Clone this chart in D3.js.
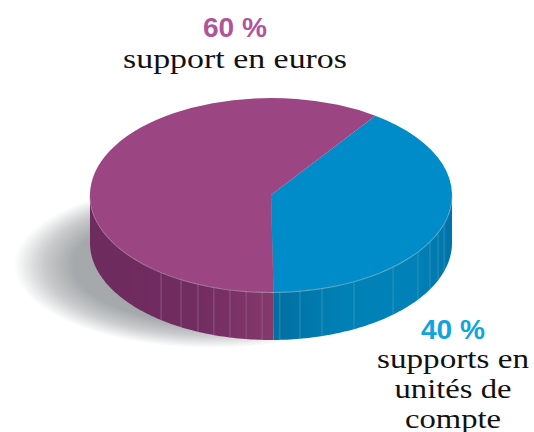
<!DOCTYPE html>
<html><head><meta charset="utf-8">
<script src="https://cdnjs.cloudflare.com/ajax/libs/d3/7.8.5/d3.min.js"></script>
<style>html,body{margin:0;padding:0;background:#fff}svg{display:block}</style></head>
<body><svg id="c" width="534" height="432"></svg>
<script>
const categories = ["supports en unités de compte", "support en euros"];
const values = [40, 60];
const percentLabels = ["40 %", "60 %"];
const facetAngles = [
  [107, 112.6, 118.6, 125.7, 137.6, 152.7, 163.6, 170.8, 177.2],
  [182.8, 187.9, 193.1, 198.4, 203.8, 209.8, 217.4]
];
const W = 534, H = 432, cx = 271, cy = 195, rx = 181, ry = 97, depth = 48, startDeg = 35.2;
const topColors = ["#008cc8", "#9c4583"];
const svg = d3.select("#c");
const defs = svg.append("defs");

const sg = defs.append("radialGradient").attr("id", "shadow");
[[0, "#a4a7a9"], [0.7, "#a6a9ab"], [0.85, "#c9cbcc"], [1, "#ffffff"]].forEach(s =>
  sg.append("stop").attr("offset", s[0]).attr("stop-color", s[1]));
const grad = (id, stops) => {
  const g = defs.append("linearGradient").attr("id", id).attr("gradientUnits", "userSpaceOnUse")
    .attr("x1", cx - rx).attr("x2", cx + rx).attr("y1", 0).attr("y2", 0);
  stops.forEach(s => g.append("stop").attr("offset", s[0]).attr("stop-color", s[1]));
};
grad("sidePurple", [[0, "#6e2b5e"], [0.3, "#712c60"], [0.5, "#85386b"]]);
grad("sideBlue", [[0.5, "#006f9f"], [0.7, "#0081b6"], [0.9, "#0082b8"], [1, "#0073a8"]]);

svg.append("ellipse").attr("cx", 212).attr("cy", 265).attr("rx", 198).attr("ry", 83).attr("fill", "url(#shadow)");

const toRad = d3.scaleLinear().domain([0, 360]).range([0, 2 * Math.PI]);
const px = a => cx + rx * Math.sin(toRad(a));
const py = a => cy - ry * Math.cos(toRad(a));

const pie = d3.pie().sort(null).value(d => d).startAngle(toRad(startDeg)).endAngle(toRad(startDeg + 360));
const arcs = pie(values);
const arc = d3.arc().innerRadius(0).outerRadius(rx);

// side walls
const deg = r => r * 180 / Math.PI;
const sides = [
  { from: 90, to: deg(arcs[0].endAngle), fill: "url(#sideBlue)", rim: "#8cbdd6" },
  { from: deg(arcs[0].endAngle), to: 270, fill: "url(#sidePurple)", rim: "#b7a0b5" }
];
const line = d3.line().x(d => d[0]).y(d => d[1]);
sides.forEach(s => {
  const as = d3.range(s.from, s.to, 1).concat([s.to]);
  const pts = as.map(a => [px(a), py(a)]).concat(as.slice().reverse().map(a => [px(a), py(a) + depth]));
  svg.append("path").attr("d", line(pts) + "Z").attr("fill", s.fill);
});
// facet lines
facetAngles.forEach((list, i) => {
  svg.append("g").selectAll("line").data(list).join("line")
    .attr("x1", px).attr("x2", px)
    .attr("y1", py).attr("y2", a => py(a) + depth)
    .attr("stroke", i === 0 ? "#3f9cc2" : "#9a6a94").attr("stroke-width", 0.7);
});
// rim highlight
sides.forEach(s => {
  svg.append("path").attr("d", line(d3.range(s.from, s.to + 1, 1).map(a => [px(a), py(a) + 0.5])))
    .attr("fill", "none").attr("stroke", s.rim).attr("stroke-width", 0.7);
});

// top
svg.append("g").attr("transform", `translate(${cx},${cy}) scale(1,${ry / rx})`)
  .selectAll("path").data(arcs).join("path")
  .attr("d", arc).attr("fill", (d, i) => topColors[i]);

// labels
const serif = "'Liberation Serif','DejaVu Serif',serif", sans = "'Liberation Sans',Arial,sans-serif";
const text = (x, y, s, size, fam, fill, weight, len) => {
  const t = svg.append("text").attr("x", x).attr("y", y).attr("text-anchor", "middle")
    .attr("font-family", fam).attr("font-size", size).attr("fill", fill)
    .attr("font-weight", weight).text(s);
  if (len) t.attr("textLength", len).attr("lengthAdjust", "spacingAndGlyphs");
};
text(235, 37, percentLabels[1], 27, sans, "#b0559a", "bold", 64);
text(235, 68, categories[1], 28, serif, "#111", "normal", 224);
text(453, 339, percentLabels[0], 27, sans, "#10a3de", "bold", 64);
text(453, 368, "supports en", 28, serif, "#111", "normal", 152);
text(453, 398, "unités de", 28, serif, "#111", "normal", 117);
text(453, 428, "compte", 28, serif, "#111", "normal", 96);
</script></body></html>
